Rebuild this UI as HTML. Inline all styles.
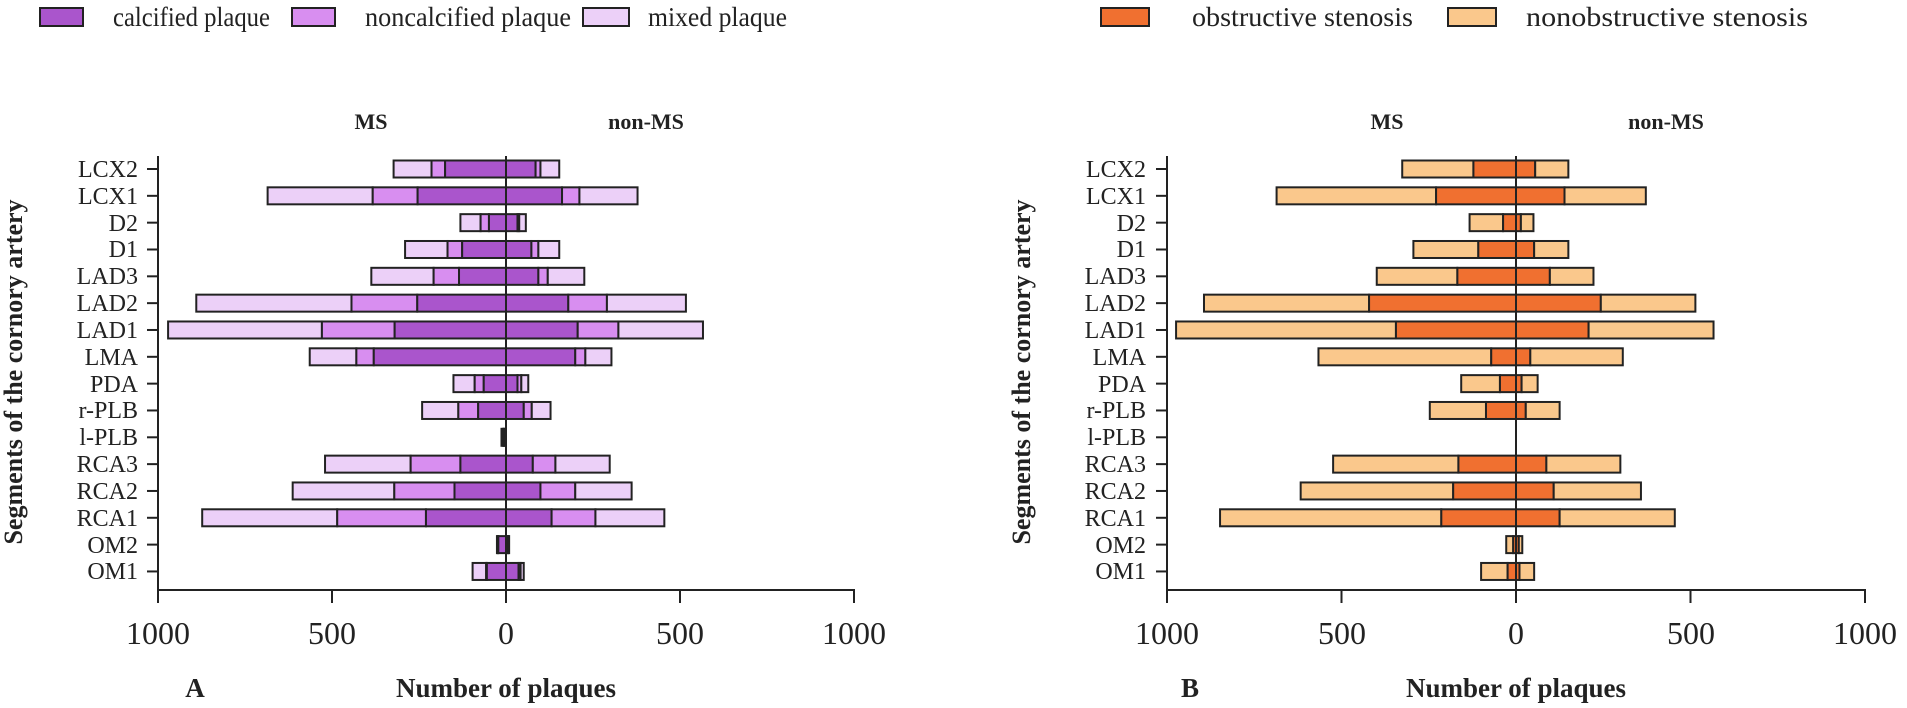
<!DOCTYPE html>
<html><head><meta charset="utf-8"><style>
html,body{margin:0;padding:0;background:#fff;}
svg{display:block;font-family:"Liberation Serif",serif;}
</style></head><body>
<svg id="s" width="1907" height="708" viewBox="0 0 1907 708" xmlns="http://www.w3.org/2000/svg">
<g font-size="27" fill="#222">
<rect x="40" y="8" width="43" height="18" fill="#aa55cc" stroke="#222" stroke-width="2"/>
<text x="113" y="26" textLength="157" lengthAdjust="spacingAndGlyphs">calcified plaque</text>
<rect x="292" y="8" width="43" height="18" fill="#d88ef0" stroke="#222" stroke-width="2"/>
<text x="365" y="26" textLength="206" lengthAdjust="spacingAndGlyphs">noncalcified plaque</text>
<rect x="583" y="8" width="46" height="18" fill="#ecd0f8" stroke="#222" stroke-width="2"/>
<text x="648" y="26" textLength="139" lengthAdjust="spacingAndGlyphs">mixed plaque</text>
<rect x="1101" y="8" width="48" height="18" fill="#f07030" stroke="#222" stroke-width="2"/>
<text x="1192" y="26" textLength="221" lengthAdjust="spacingAndGlyphs">obstructive stenosis</text>
<rect x="1448" y="8" width="48" height="18" fill="#fac88c" stroke="#222" stroke-width="2"/>
<text x="1526" y="26" textLength="282" lengthAdjust="spacingAndGlyphs">nonobstructive stenosis</text>
</g>
<g font-weight="bold" font-size="22" fill="#222" text-anchor="middle">
<text x="371" y="129">MS</text><text x="646" y="129">non-MS</text>
<text x="1387" y="129">MS</text><text x="1666" y="129">non-MS</text>
<text x="195" y="697" font-size="27">A</text><text x="1190" y="697" font-size="27">B</text>
<text x="506" y="697" font-size="27">Number of plaques</text>
<text x="1516" y="697" font-size="27">Number of plaques</text>
<text transform="translate(22,372) rotate(-90)" font-size="26">Segments of the cornory artery</text>
<text transform="translate(1030,372) rotate(-90)" font-size="26">Segments of the cornory artery</text>
</g>
<g font-size="24" fill="#222" text-anchor="end">
<text x="138" y="177">LCX2</text><text x="138" y="204">LCX1</text><text x="138" y="231">D2</text><text x="138" y="257">D1</text>
<text x="138" y="284">LAD3</text><text x="138" y="311">LAD2</text><text x="138" y="338">LAD1</text><text x="138" y="365">LMA</text>
<text x="138" y="392">PDA</text><text x="138" y="418">r-PLB</text><text x="138" y="445">l-PLB</text><text x="138" y="472">RCA3</text>
<text x="138" y="499">RCA2</text><text x="138" y="526">RCA1</text><text x="138" y="553">OM2</text><text x="138" y="579">OM1</text>
</g>
<g font-size="24" fill="#222" text-anchor="end">
<text x="1146" y="177">LCX2</text><text x="1146" y="204">LCX1</text><text x="1146" y="231">D2</text><text x="1146" y="257">D1</text>
<text x="1146" y="284">LAD3</text><text x="1146" y="311">LAD2</text><text x="1146" y="338">LAD1</text><text x="1146" y="365">LMA</text>
<text x="1146" y="392">PDA</text><text x="1146" y="418">r-PLB</text><text x="1146" y="445">l-PLB</text><text x="1146" y="472">RCA3</text>
<text x="1146" y="499">RCA2</text><text x="1146" y="526">RCA1</text><text x="1146" y="553">OM2</text><text x="1146" y="579">OM1</text>
</g>
<g font-size="32" fill="#222" text-anchor="middle">
<text x="158" y="644">1000</text><text x="332" y="644">500</text><text x="506" y="644">0</text><text x="680" y="644">500</text><text x="854" y="644">1000</text>
<text x="1167" y="644">1000</text><text x="1342" y="644">500</text><text x="1516" y="644">0</text><text x="1691" y="644">500</text><text x="1865" y="644">1000</text>
</g>
<g id="bars"></g>
<g stroke="#222" stroke-width="2" fill="none" id="axes"></g>
</svg>
<script>
var NS="http://www.w3.org/2000/svg";
function el(p,t,a){var e=document.createElementNS(NS,t);for(var k in a)e.setAttribute(k,a[k]);p.appendChild(e);return e;}
var bars=document.getElementById('bars'),axes=document.getElementById('axes');
var H=17;
function ry(i){return 169+i*26.83;}
var A=[[323,214,175,85,99,153],[685,383,254,161,211,378],[131,73,49,33,38,57],[290,168,126,73,93,153],
[387,208,135,93,120,225],[890,444,255,179,290,517],[971,529,320,206,323,566],[564,430,380,199,228,303],
[151,90,64,33,44,64],[241,137,80,51,74,128],[13,8,5,0,0,0],[520,274,131,77,142,298],
[613,321,148,99,199,361],[873,485,230,131,257,455],[26,24,22,5,7,9],[96,57,55,36,42,51]];
var cA=['#ecd0f8','#d88ef0','#aa55cc'];
var z=506,s=0.348;
function seg(x1,x2,y,c){if(x2-x1<=0.1)return;el(bars,'rect',{x:x1,y:y-H/2,width:x2-x1,height:H,fill:c,stroke:'#222','stroke-width':2});}
A.forEach(function(r,i){var y=ry(i);
seg(z-r[0]*s,z-r[1]*s,y,cA[0]);seg(z-r[1]*s,z-r[2]*s,y,cA[1]);seg(z-r[2]*s,z+r[3]*s,y,cA[2]);
seg(z+r[3]*s,z+r[4]*s,y,cA[1]);seg(z+r[4]*s,z+r[5]*s,y,cA[0]);});
var B=[[326,122,55,150],[686,229,139,372],[133,37,14,50],[294,108,52,150],[399,168,97,222],[894,421,243,514],
[974,344,208,566],[566,71,41,306],[157,46,16,62],[247,86,28,125],[0,0,0,0],[524,165,87,299],
[617,180,108,358],[848,214,125,455],[28,8,8,18],[100,24,10,52]];
var z2=1516,s2=0.349;
B.forEach(function(r,i){var y=ry(i);
seg(z2-r[0]*s2,z2-r[1]*s2,y,'#fac88c');seg(z2-r[1]*s2,z2+r[2]*s2,y,'#f07030');seg(z2+r[2]*s2,z2+r[3]*s2,y,'#fac88c');});
[[158,506,854],[1167,1516,1865]].forEach(function(p){
el(axes,'line',{x1:p[0],y1:156,x2:p[0],y2:591});
el(axes,'line',{x1:p[0]-1,y1:590,x2:p[2]+1,y2:590});
el(axes,'line',{x1:p[1],y1:156,x2:p[1],y2:590});
[p[0],(p[0]+p[1])/2,p[1],(p[1]+p[2])/2,p[2]].forEach(function(x){el(axes,'line',{x1:x,y1:590,x2:x,y2:603});});
for(var i=0;i<16;i++){var y=ry(i);el(axes,'line',{x1:p[0]-11,y1:y,x2:p[0],y2:y});}
});
</script>
</body></html>
